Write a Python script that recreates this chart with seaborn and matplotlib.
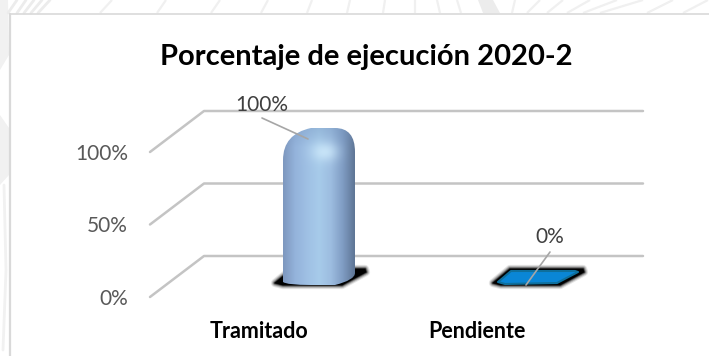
import numpy as np
import pandas as pd
import seaborn as sns
import matplotlib
matplotlib.use("Agg")
import matplotlib.pyplot as plt
from matplotlib.patches import PathPatch, Polygon, Rectangle
from matplotlib.path import Path
from matplotlib.transforms import ScaledTranslation
from matplotlib.colors import to_rgb

categories = ["Tramitado", "Pendiente"]
values = [100, 0]
value_labels = ["100%", "0%"]
y_ticks = [0, 50, 100]
y_tick_labels = ["0%", "50%", "100%"]
title = "Porcentaje de ejecución 2020-2"

sns.set_theme(style="white")
plt.rcParams["font.family"] = ["Lato", "DejaVu Sans"]

W, H = 709, 356
fig = plt.figure(figsize=(W / 100, H / 100), dpi=100, facecolor="white")

# page backdrop, in pixel coordinates
bg = fig.add_axes([0, 0, 1, 1], zorder=-1)
bg.set_xlim(0, W); bg.set_ylim(H, 0); bg.axis("off")
stripes = [(100, 112), (157, 166), (211, 220), (261, 268), (307, 312), (347, 350), (383, 385),
           (415, 415), (440, 437), (461, 457), (512, 515), (527, 540), (547, 563), (567, 590),
           (583, 617), (600, 643), (647, 673), (683, 708)]
for a, b in stripes:
    bg.plot([a, b], [13, 0], color="#f0f0f0", lw=1.6, solid_capstyle="butt")
bg.add_patch(Polygon([(483, 13), (500, 13), (493, 0), (478, 0)], fc="#ececec", ec="none"))
for a, b in [(8, 17), (17, 26), (24, 34), (31, 42), (38, 50)]:
    bg.plot([a, b], [13, 0], color="#ececec", lw=2)
bg.add_patch(Polygon([(0, 0), (8, 0), (9, 55), (0, 70)], fc="#f1f1f1", ec="none"))
bg.add_patch(Polygon([(0, 115), (9, 128), (9, 175), (0, 185)], fc="#f1f1f1", ec="none"))
bg.plot([4, 6, 3], [185, 270, 350], color="#f1f1f1", lw=2)
bg.add_patch(Rectangle((10, 13.5), W, H, fc="white", ec="none"))
bg.plot([10, 10], [H, 13.5], color="#d9d9d9", lw=1.6)
bg.plot([10, W], [13.5, 13.5], color="#d9d9d9", lw=1.2)

# main axes: front wall at px 297 (value 0), back wall 41 px up and 54 px right
L, R, T, B = 150, 643, 111, 297
ax = fig.add_axes([L / W, 1 - B / H, (R - L) / W, (B - T) / H])
PX_Y = 145 / 100          # pixels per value unit
PX_X = 218                # pixels per category step
ax.set_xlim((L - 319) / PX_X, (R - 319) / PX_X)
ax.set_ylim(0, (B - T) / PX_Y)
ax.patch.set_alpha(0)
sns.despine(ax=ax, left=True, bottom=True, right=True, top=True)

dx, dy = 54 / PX_X, 41 / PX_Y
x0, x1 = ax.get_xlim()
for t in y_ticks:
    ax.plot([x0, x0 + dx, x1], [t, t + dy, t + dy], color="#c4c4c4", lw=1.8, zorder=1,
            solid_joinstyle="round", clip_on=False)

base = 12 / PX_Y
df = pd.DataFrame({"categoria": categories, "valor": values})
sns.barplot(data=df, x="categoria", y="valor", ax=ax, width=72 / PX_X, bottom=base,
            color="#8fb2dc", zorder=2)
ax.set_xlim(x0, x1)
ax.set_ylim(0, (B - T) / PX_Y)
ax.set_xlabel(""); ax.set_ylabel("")
ax.set_yticks(y_ticks, y_tick_labels, color="#595959", fontsize=15)
ax.tick_params(axis="y", length=0, pad=16)
ax.tick_params(axis="x", length=0, pad=17)
offset = ScaledTranslation(-60 / 100, 0, fig.dpi_scale_trans)
ax.set_xticks(range(len(categories)), categories, fontsize=15.5, fontweight="bold", color="black")
for lab in ax.get_xticklabels():
    lab.set_transform(lab.get_transform() + offset)

bars = list(ax.patches)

def px(cx, ox, oy):
    return cx + ox / PX_X, base + oy / PX_Y

def smear(points, color, z):
    for lw, alpha in [(6, .10), (4.5, .18), (3, .3), (1.6, .6), (.3, 1)]:
        ax.add_patch(Polygon(points, closed=True, fc=color, ec=color, lw=lw, alpha=alpha,
                             joinstyle="round", zorder=z))

hexagon = [(-44, 2), (-27, 16), (46, 16), (47, 13), (23, 0), (-36, 0)]
inset = [(-39, 3), (-26, 14), (38, 14), (41, 13), (20, 2), (-32, 1)]
stops_x = np.linspace(0, 1, 7)
stops_c = np.array([to_rgb(c) for c in ["#7e98bf", "#94b3db", "#9fc0e4", "#a7cbea", "#9dbde0", "#809dc4", "#5f7696"]])

for bar, val, txt in zip(bars, values, value_labels):
    cx = bar.get_x() + bar.get_width() / 2
    w = bar.get_width()
    bar.set_visible(False)
    smear([px(cx, a, b) for a, b in hexagon], "#000000", 2)
    if val > 0:
        left, right = bar.get_x(), bar.get_x() + w
        bot, top = bar.get_y(), bar.get_y() + bar.get_height() + 12 / PX_Y
        rx, ry = 28 / PX_X, 32 / PX_Y
        rx2, ry2 = 20 / PX_X, 24 / PX_Y
        verts = [(left, bot + 3 / PX_Y), (left, top - ry), (left, top - 6 / PX_Y), (left + rx, top),
                 (right - rx2, top), (right, top), (right, top - ry2),
                 (right, bot + 12 / PX_Y), (right, bot + 5 / PX_Y), (right - rx2, bot),
                 (left + rx, bot), (left + 4 / PX_X, bot), (left, bot + 3 / PX_Y), (left, bot + 3 / PX_Y)]
        codes = [Path.MOVETO, Path.LINETO, Path.CURVE3, Path.CURVE3, Path.LINETO, Path.CURVE3, Path.CURVE3,
                 Path.LINETO, Path.CURVE3, Path.CURVE3, Path.LINETO, Path.CURVE3, Path.CURVE3, Path.CLOSEPOLY]
        shape = PathPatch(Path(verts, codes), transform=ax.transData, fc="none", ec="none")
        ax.add_patch(shape)
        nx, ny = 72, 160
        u = np.linspace(0, 1, nx)
        v = np.linspace(0, 1, ny)
        U, V = np.meshgrid(u, v)
        img = np.stack([np.interp(U, stops_x, stops_c[:, i]) for i in range(3)], axis=-1)
        glow = np.exp(-(((U - .58) / .18) ** 2 + ((V - .15) / .06) ** 2))[..., None] * .8
        cap = np.clip((.12 - V) / .12, 0, 1)[..., None] * .3
        img = img * (1 - cap) + cap * np.array(to_rgb("#6f8fb8"))
        img = img * (1 - glow) + glow * np.array(to_rgb("#cfeafb"))
        im = ax.imshow(img, extent=(left, right, bot, top), origin="upper", aspect="auto", zorder=3,
                       interpolation="bilinear")
        im.set_clip_path(shape)
        anchor = ((left + 25 / PX_X), top - 11 / PX_Y)
        text_off = (-46, 34)
        line_off = (-46, 21)
    else:
        ax.add_patch(Polygon([px(cx, a, b) for a, b in inset], closed=True, fc="#0a86d6",
                             ec="#0f6f9c", lw=1.5, joinstyle="round", zorder=3))
        anchor = px(cx, -11, 0)
        text_off = (24, 48)
        line_off = (24, 33)
    ax.annotate("", xy=anchor, xytext=line_off, textcoords="offset pixels",
                arrowprops=dict(arrowstyle="-", color="#a6a6a6", lw=1.2, shrinkA=0, shrinkB=0), zorder=4,
                annotation_clip=False)
    ax.annotate(txt, xy=anchor, xytext=text_off, textcoords="offset pixels", ha="center", va="center",
                color="#404040", fontsize=15, zorder=5, annotation_clip=False)

ax.set_xlim(x0, x1)
ax.set_ylim(0, (B - T) / PX_Y)

fig.text(366.5 / W, 1 - 56.5 / H, title, ha="center", va="center", fontsize=21, fontweight="bold", color="black")

fig.savefig("out.png", dpi=100)
